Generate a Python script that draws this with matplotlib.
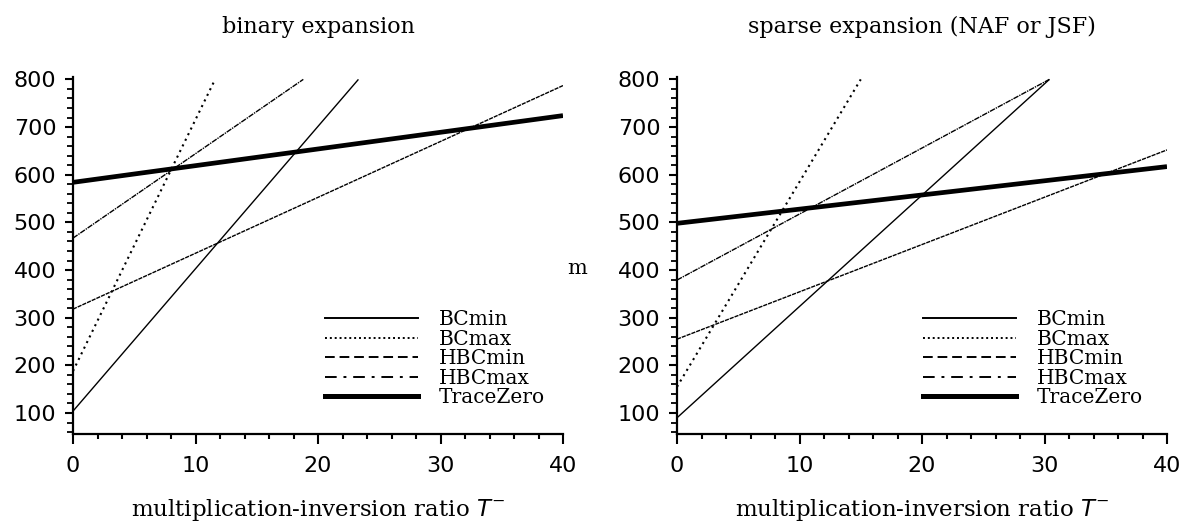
import matplotlib
matplotlib.use("Agg")
import matplotlib.pyplot as plt
from matplotlib.lines import Line2D
from matplotlib.ticker import MultipleLocator

# ---- data ----
series_names = ["BCmin", "BCmax", "HBCmin", "HBCmax", "TraceZero"]

# binary expansion
bin_BCmin_x = [0, 23.3];   bin_BCmin_y = [104, 800]
bin_BCmax_x = [0, 11.6];   bin_BCmax_y = [188, 800]
bin_HBCmin_x = [0, 40];    bin_HBCmin_y = [318, 787]
bin_HBCmax_x = [0, 18.8];  bin_HBCmax_y = [467, 800]
bin_TZ_x = [0, 40];        bin_TZ_y = [584, 724]

# sparse expansion (NAF or JSF)
sp_BCmin_x = [0, 30.4];    sp_BCmin_y = [90, 800]
sp_BCmax_x = [0, 15.0];    sp_BCmax_y = [155, 800]
sp_HBCmin_x = [0, 40];     sp_HBCmin_y = [255, 652]
sp_HBCmax_x = [0, 30.4];   sp_HBCmax_y = [379, 800]
sp_TZ_x = [0, 40];         sp_TZ_y = [498, 617]

titles = ["binary expansion", "sparse expansion (NAF or JSF)"]
xlabel = r"multiplication-inversion ratio $T^{-}$"
xticks = [0, 10, 20, 30, 40]
yticks = [100, 200, 300, 400, 500, 600, 700, 800]

panels = [
    [(bin_BCmin_x, bin_BCmin_y), (bin_BCmax_x, bin_BCmax_y), (bin_HBCmin_x, bin_HBCmin_y),
     (bin_HBCmax_x, bin_HBCmax_y), (bin_TZ_x, bin_TZ_y)],
    [(sp_BCmin_x, sp_BCmin_y), (sp_BCmax_x, sp_BCmax_y), (sp_HBCmin_x, sp_HBCmin_y),
     (sp_HBCmax_x, sp_HBCmax_y), (sp_TZ_x, sp_TZ_y)],
]

# styles: (plot linestyle, linewidth, legend linestyle)
styles = [
    ("-", 1.0, "-"),
    ((0, (1, 2.0)), 1.5, (0, (1, 1.5))),
    ((0, (3, 0.7)), 1.0, (0, (5, 2.5))),
    ((0, (4, 0.7, 1, 0.7)), 1.0, (0, (6, 3.5, 1.5, 3.5))),
    ("-", 3.4, "-"),
]

W, H = 1189, 526
fig = plt.figure(figsize=(W / 100, H / 100), dpi=100)

serif = ["DejaVu Serif"]
ax_left_px = [73, 677]
ax_top, ax_bot = 77, 434
ax_w = 490

for i, (left, data) in enumerate(zip(ax_left_px, panels)):
    ax = fig.add_axes([left / W, 1 - ax_bot / H, ax_w / W, (ax_bot - ax_top) / H])
    for (x, y), (ls, lw, _) in zip(data, styles):
        ax.plot(x, y, color="black", linestyle=ls, linewidth=lw, solid_capstyle="butt")
    ax.set_xlim(0, 40)
    ax.set_ylim(56, 805)
    ax.spines["top"].set_visible(False)
    ax.spines["right"].set_visible(False)
    ax.spines["left"].set_linewidth(1.6)
    ax.spines["bottom"].set_linewidth(1.6)
    ax.set_xticks(xticks)
    ax.set_yticks(yticks)
    ax.xaxis.set_minor_locator(MultipleLocator(2))
    ax.yaxis.set_minor_locator(MultipleLocator(20))
    ax.tick_params(axis="x", which="major", direction="out", length=7, width=1.5,
                   labelsize=16, pad=9)
    ax.tick_params(axis="x", which="minor", direction="out", length=3.5, width=1.5)
    ax.tick_params(axis="y", which="major", direction="out", length=6, width=1.5,
                   labelsize=16, pad=6)
    ax.tick_params(axis="y", which="minor", direction="out", length=4.5, width=1.3)
    for lab in ax.get_xticklabels() + ax.get_yticklabels():
        lab.set_family("DejaVu Sans")

    cx = (left + ax_w / 2) / W
    fig.text(cx, 1 - 27 / H, titles[i], ha="center", va="center",
             family=serif, fontsize=16)
    fig.text(cx, 1 - 510 / H, xlabel, ha="center", va="center",
             family=serif, fontsize=16.5)

    handles = [Line2D([], [], color="black", linestyle=lls, linewidth=(3.6 if k == 4 else 1.4))
               for k, (_, _, lls) in enumerate(styles)]
    leg_x = (325 if i == 0 else 923) - left
    ax.legend(handles, series_names, loc="upper left",
              bbox_to_anchor=(leg_x / ax_w, 1 - (310 - ax_top) / (ax_bot - ax_top)),
              frameon=False, handlelength=4.6, handletextpad=1.05,
              labelspacing=0.03, borderpad=0, borderaxespad=0,
              prop={"family": serif, "size": 14.5})

fig.text(577 / W, 1 - 268 / H, "m", ha="center", va="center", family=serif, fontsize=15)

fig.savefig("out.png", dpi=100)
